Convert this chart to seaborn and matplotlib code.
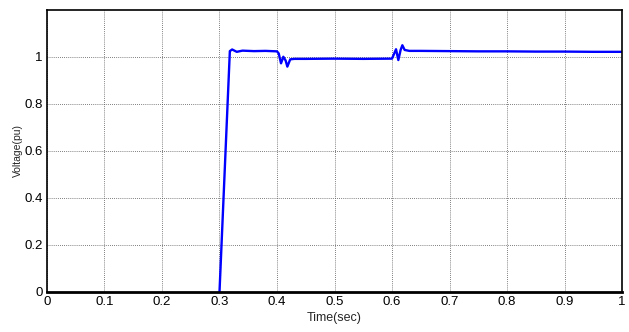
import numpy as np
import pandas as pd
import matplotlib
matplotlib.use("Agg")
import matplotlib.pyplot as plt
import seaborn as sns

# breakpoints (voltage is 0 before t = 0.3 s)
time_sec = [0.300, 0.318, 0.322, 0.330, 0.340, 0.360, 0.380, 0.400, 0.403,
            0.407, 0.411, 0.415, 0.418, 0.423, 0.430, 0.450, 0.500, 0.550, 0.600,
            0.603, 0.607, 0.611, 0.615, 0.618, 0.622, 0.630, 0.650, 0.700, 0.750,
            0.800, 0.850, 0.900, 0.950, 1.000]
voltage_pu = [0.0, 1.025, 1.032, 1.022, 1.027, 1.025, 1.026, 1.024, 1.015,
              0.973, 1.001, 0.985, 0.959, 0.990, 0.992, 0.992, 0.993, 0.992, 0.993,
              1.010, 1.033, 0.987, 1.030, 1.050, 1.030, 1.026, 1.026, 1.025, 1.024,
              1.024, 1.023, 1.023, 1.022, 1.022]
x_ticks = [0, 0.1, 0.2, 0.3, 0.4, 0.5, 0.6, 0.7, 0.8, 0.9, 1]
y_ticks = [0, 0.2, 0.4, 0.6, 0.8, 1]

df = pd.DataFrame({"time": time_sec, "voltage": voltage_pu})

sns.set_style("white")
plt.rcParams["font.family"] = ["Liberation Sans Narrow", "Liberation Sans", "DejaVu Sans"]

fig = plt.figure(figsize=(6.29, 3.32), dpi=100)
ax = fig.add_axes([0.0747, 0.1205, 0.9142, 0.8494])

sns.lineplot(data=df, x="time", y="voltage", ax=ax, color="#0000ff",
             linewidth=1.7, estimator=None, sort=False, zorder=2.5)

ax.set_xlim(0, 1)
ax.set_ylim(0, 1.2)
ax.set_xticks(x_ticks)
ax.set_xticklabels([f"{t:g}" for t in x_ticks])
ax.set_yticks(y_ticks)
ax.set_yticklabels([f"{t:g}" for t in y_ticks])
ax.tick_params(direction="in", length=3, labelsize=9.5, colors="black", pad=3)
ax.grid(True, color="#555555", linestyle=(0, (1, 1.5)), linewidth=0.6)
for s in ax.spines.values():
    s.set_color("black")
    s.set_linewidth(1.2)
    s.set_zorder(4)
ax.spines["bottom"].set_linewidth(2.0)

ax.set_xlabel("Time(sec)", fontsize=9, labelpad=3)
ax.set_ylabel("Voltage(pu)", fontsize=7.5, labelpad=1)

fig.savefig("out.png", dpi=100)
plt.close(fig)
